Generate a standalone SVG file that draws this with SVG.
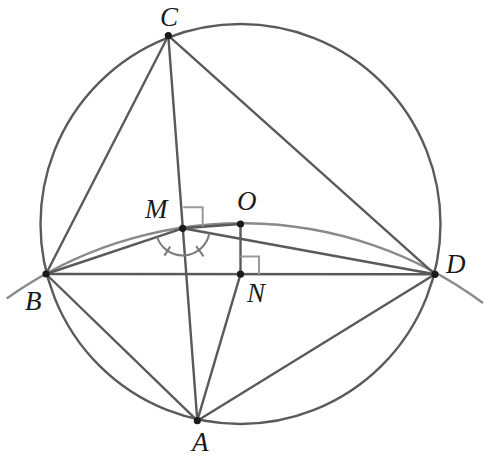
<svg xmlns="http://www.w3.org/2000/svg" width="488" height="456" viewBox="0 0 488 456">
<style>
.ln{stroke:#5a5a5a;stroke-width:2.4;fill:none;stroke-linecap:round}
.arc{stroke:#8a8a8a;stroke-width:2.4;fill:none}
.mk{stroke:#9a9a9a;stroke-width:2;fill:none}
.ang{stroke:#7a7a7a;stroke-width:2;fill:none}
.pt{fill:#1a1a1a}
.lb{font-family:"Liberation Serif",serif;font-style:italic;font-size:27px;fill:#1a1a1a}
</style>
<rect width="488" height="456" fill="#fff"/>
<g id="connectors">
<path class="arc" d="M6.7,298.6 A404.4,404.4 0 0 1 483,303"/>
<circle class="ln" cx="240.5" cy="224" r="200"/>
<line class="ln" x1="168.3" y1="35.7" x2="46" y2="274"/>
<line class="ln" x1="168.3" y1="35.7" x2="435" y2="274.3"/>
<line class="ln" x1="168.3" y1="35.7" x2="197.3" y2="420.7"/>
<line class="ln" x1="46" y1="274" x2="435" y2="274.3"/>
<line class="ln" x1="46" y1="274" x2="182.7" y2="228.3"/>
<line class="ln" x1="182.7" y1="228.3" x2="435" y2="274.3"/>
<line class="ln" x1="46" y1="274" x2="197.3" y2="420.7"/>
<line class="ln" x1="197.3" y1="420.7" x2="435" y2="274.3"/>
<line class="ln" x1="197.3" y1="420.7" x2="240.5" y2="274.2"/>
<line class="ln" x1="240.5" y1="274.2" x2="240.5" y2="224"/>
<line class="ln" x1="182.7" y1="228.3" x2="240.5" y2="224"/>
<polyline class="mk" points="183.3,207.3 202.7,207.3 202.7,226.5"/>
<polyline class="mk" points="240.5,256.5 259,256.5 259,274.2"/>
<path class="ang" d="M209.3,233.2 A27,27 0 0 1 157.1,237"/>
<line class="ang" x1="196.2" y1="246.1" x2="203.6" y2="256.3"/>
<line class="ang" x1="170.2" y1="246.6" x2="164.4" y2="255.6"/>
</g>
<g id="C"><circle class="pt" cx="168.3" cy="35.7" r="3.6"/><text class="lb" x="160" y="26">C</text></g>
<g id="B"><circle class="pt" cx="46" cy="274" r="3.6"/><text class="lb" x="25" y="310">B</text></g>
<g id="D"><circle class="pt" cx="435" cy="274.3" r="3.6"/><text class="lb" x="446" y="273">D</text></g>
<g id="A"><circle class="pt" cx="197.3" cy="420.7" r="3.6"/><text class="lb" x="192" y="451">A</text></g>
<g id="M"><circle class="pt" cx="182.7" cy="228.3" r="3.6"/><text class="lb" x="145" y="218">M</text></g>
<g id="O"><circle class="pt" cx="240.5" cy="224" r="3.6"/><text class="lb" x="237" y="210">O</text></g>
<g id="N"><circle class="pt" cx="240.5" cy="274.2" r="3.6"/><text class="lb" x="247" y="302">N</text></g>
</svg>
